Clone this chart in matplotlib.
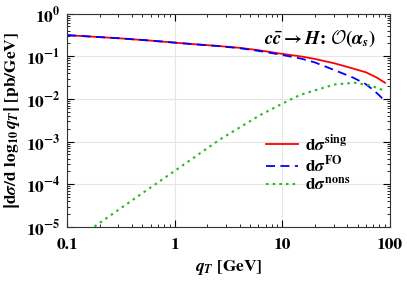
import numpy as np
import matplotlib
matplotlib.use("Agg")
import matplotlib.pyplot as plt

plt.rcParams['font.family'] = 'STIXGeneral'
plt.rcParams['font.weight'] = 'bold'
plt.rcParams['mathtext.fontset'] = 'custom'
plt.rcParams['mathtext.rm'] = 'STIXGeneral:bold'
plt.rcParams['mathtext.it'] = 'STIXGeneral:bold:italic'
plt.rcParams['mathtext.bf'] = 'STIXGeneral:bold'
plt.rcParams['mathtext.cal'] = 'cmsy10'

# data
q_sing = [0.1, 0.3, 0.6, 1.39, 2.5, 4.0, 6.0, 9.5, 15, 20, 30.8, 45, 60, 75, 90]
sig_sing = [0.313, 0.265, 0.233, 0.195, 0.175, 0.158, 0.139, 0.116, 0.099, 0.087, 0.068, 0.052, 0.042, 0.032, 0.024]
q_fo = [0.1, 0.3, 0.6, 1.39, 2.5, 4.0, 6.0, 9.5, 15, 20, 30.8, 45, 58.5, 70, 80, 90]
sig_fo = [0.313, 0.265, 0.233, 0.195, 0.174, 0.155, 0.134, 0.110, 0.088, 0.072, 0.047, 0.032, 0.023, 0.0163, 0.012, 0.0089]
q_nons = [0.1, 0.182, 0.5, 1.12, 2.63, 6.2, 10, 14.5, 20, 30.8, 47, 65, 90]
sig_nons = [10**-5.44, 10**-4.98, 10**-4.21, 10**-3.60, 10**-2.95, 10**-2.38, 10**-2.11,
            10**-1.91, 10**-1.80, 10**-1.66, 10**-1.62, 10**-1.68, 10**-1.81]

xticks = [0.1, 1, 10, 100]
xticklabels = ['0.1', '1', '10', '100']
yticks = [1e-5, 1e-4, 1e-3, 1e-2, 1e-1, 1e0]
yticklabels = [r'$10^{-5}$', r'$10^{-4}$', r'$10^{-3}$', r'$10^{-2}$', r'$10^{-1}$', r'$10^{0}$']

fig = plt.figure(figsize=(4.07, 2.84), dpi=100)
ax = fig.add_axes([0.165, 0.201, 0.793, 0.751])

ax.plot(q_sing, sig_sing, color='#ff0000', lw=1.3, ls='-', label=r'$\mathrm{d}\sigma^{\mathrm{sing}}$')
ax.plot(q_fo, sig_fo, color='#0000ff', lw=1.3, ls=(0, (5, 3)), label=r'$\mathrm{d}\sigma^{\mathrm{FO}}$')
ax.plot(q_nons, sig_nons, color='#22bb22', lw=1.5, ls=(0, (1.2, 2)), label=r'$\mathrm{d}\sigma^{\mathrm{nons}}$')

ax.set_xscale('log')
ax.set_yscale('log')
ax.set_xlim(0.1, 100)
ax.set_ylim(1e-5, 1)
ax.set_xticks(xticks)
ax.set_xticklabels(xticklabels)
ax.set_yticks(yticks)
ax.set_yticklabels(yticklabels)
ax.tick_params(which='both', direction='in', top=True, right=True, labelsize=12.5)
ax.tick_params(axis='x', which='major', pad=8)
ax.tick_params(axis='y', which='major', pad=5)
ax.tick_params(which='major', length=5, width=0.8)
ax.tick_params(which='minor', length=2.5, width=0.6)
ax.grid(True, which='major', color='#e6e6e6', lw=0.8)
ax.set_axisbelow(True)
for s in ax.spines.values():
    s.set_linewidth(0.8)
    s.set_color('#333333')

ax.set_xlabel(r'$q_T$ [GeV]', fontsize=12.5, fontweight='bold', labelpad=4)
ax.set_ylabel(r'$\left|\mathrm{d}\sigma/\mathrm{d}\ \log_{10}q_T\right|$ [pb/GeV]', fontsize=12.5,
              fontweight='bold', labelpad=3)

ax.text(0.955, 0.93, r'$c\bar{c}\to H$: $\mathcal{O}(\alpha_s)$', transform=ax.transAxes,
        ha='right', va='top', fontsize=13.5, fontweight='bold')

ax.legend(loc='center left', bbox_to_anchor=(0.59, 0.3), frameon=False, fontsize=12.5,
          handlelength=1.85, handletextpad=0.4, labelspacing=0.05, borderpad=0)

fig.savefig('out.png', dpi=100)
